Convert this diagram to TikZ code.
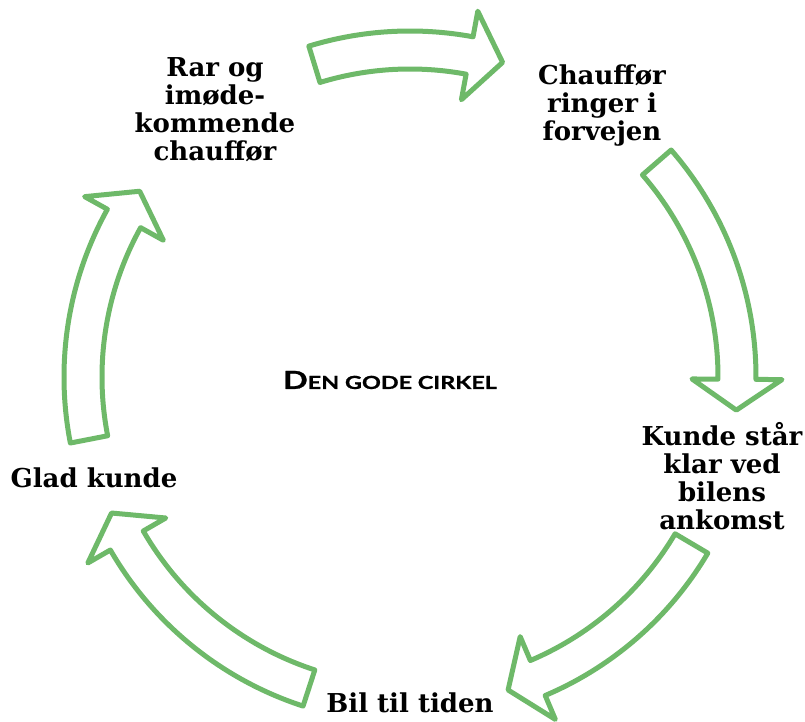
\documentclass[tikz,border=0pt]{standalone}
\usepackage{fontspec}
\newfontfamily\labelfont{DejaVu Serif}
\newfontfamily\titlefont[FakeStretch=1.3, BoldFeatures={FakeBold=1}]{Lato}
\definecolor{cyclegreen}{RGB}{110,185,105}

\tikzset{
  cyclearrow/.style={draw=cyclegreen, line width=5pt, line join=round, fill=white},
  steplabel/.style={font={\labelfont\bfseries\fontsize{26}{28}\selectfont}, align=center, inner sep=0pt}
}

\begin{document}
\begin{tikzpicture}[x=1pt,y=1pt]
  \useasboundingbox (0,0) rectangle (805,721);
  % ring of curved arrows: tail / head base / tip angles
  \begin{scope}[shift={(410,344)}]
    \foreach \t/\b/\p in {107/79.5/73.6, 41/-0.4/-5.8, -30.6/-67/-72.6, 252/210/204.5, 191/151/145.5}
      \draw[cyclearrow] (\t:346pt) arc[start angle=\t, end angle=\b, radius=346pt]
        -- (\b:372pt) -- (\p:328pt) -- (\b:282pt)
        -- (\b:308pt) arc[start angle=\b, end angle=\t, radius=308pt] -- cycle;
  \end{scope}
  \node[steplabel] (rar)   at (215,611) {Rar og\\imøde-\\kommende\\chauffør};
  \node[steplabel] (ring)  at (602,615) {Chauffør\\ringer i\\forvejen};
  \node[steplabel] (klar)  at (722,245) {Kunde står\\klar ved\\bilens\\ankomst};
  \node[steplabel] (bil)   at (410,18)  {Bil til tiden};
  \node[steplabel] (glad)  at (94,243)  {Glad kunde};
  \node[font=\titlefont\bfseries, inner sep=0pt] (title) at (390,341)
    {{\fontsize{25}{26}\selectfont D}{\fontsize{18}{26}\selectfont EN GODE CIRKEL}};
\end{tikzpicture}
\end{document}
